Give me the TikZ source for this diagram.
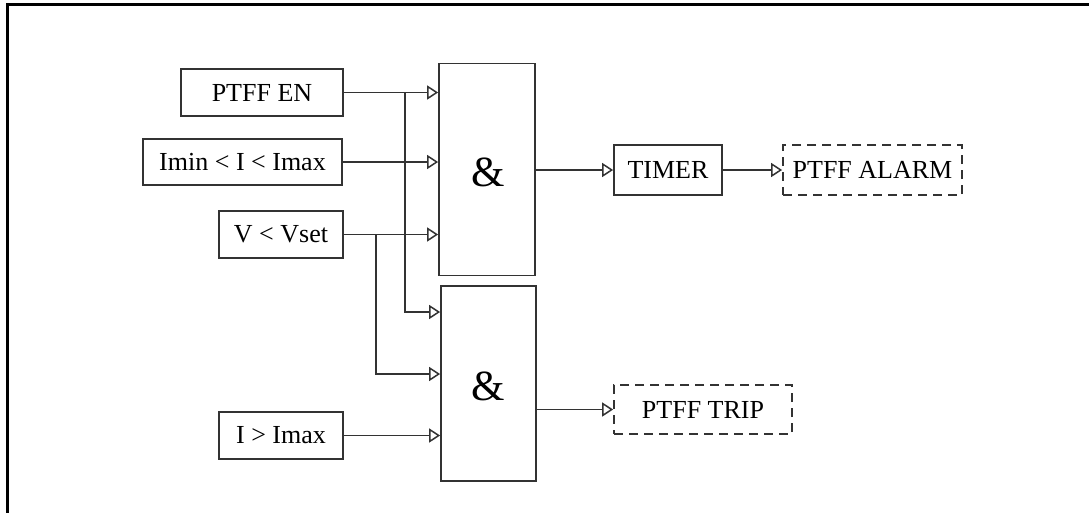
\documentclass[tikz,border=0pt]{standalone}
\usepackage{fontspec}
\setmainfont{Liberation Serif}
\usetikzlibrary{arrows.meta}
\definecolor{ln}{HTML}{333333}
\tikzset{
  box/.style={draw=ln, line width=1.7pt, rectangle, inner sep=0pt, font=\fontsize{26}{30}\selectfont},
  dbox/.style={box, dash pattern=on 9pt off 6pt},
  gate/.style={draw=ln, line width=1.7pt, rectangle, inner sep=0pt},
  wire/.style={draw=ln, line width=1.6pt},
  arr/.style={wire, -{Triangle[open, length=11pt, width=14pt, line width=1.5pt]}},
  amp/.style={font=\fontsize{43}{48}\selectfont, inner sep=0pt}
}
\begin{document}
\begin{tikzpicture}[x=1pt,y=-1pt]
\useasboundingbox (0,0) rectangle (1089,512);
\fill[white] (0,0) rectangle (1089,512);
% outer frame (cropped at right and bottom)
\draw[line width=3pt, black] (7.5,520) -- (7.5,4.5) -- (1100,4.5);

% input boxes
\node[box, minimum width=162pt, minimum height=47pt] (en) at (262,92.5) {PTFF EN};
\node[box, minimum width=199pt, minimum height=46pt] (imin) at (242.5,162) {Imin < I < Imax};
\node[box, minimum width=124pt, minimum height=47pt] (vset) at (281,234.5) {V < Vset};
\node[box, minimum width=124pt, minimum height=47pt] (imax) at (281,435.5) {I > Imax};

% gates
\node[gate, minimum width=96pt, minimum height=212pt] (and1) at (487,169.5) {};
\node[gate, minimum width=95pt, minimum height=195pt] (and2) at (488.5,383.5) {};
\node[amp] (amp1) at (488,172) {\&};
\node[amp] (amp2) at (488,386) {\&};

% output boxes
\node[box, minimum width=108pt, minimum height=50pt] (timer) at (668,170) {TIMER};
\node[dbox, minimum width=179pt, minimum height=50pt] (alarm) at (872.5,170) {PTFF ALARM};
\node[dbox, minimum width=178pt, minimum height=49pt] (trip) at (703,409.5) {PTFF TRIP};

% branch coordinates
\coordinate (b1) at (405,312);
\coordinate (b2) at (376,374);
\coordinate (j1) at (en.east -| b1);
\coordinate (j2) at (vset.east -| b2);

% inputs to gate 1
\draw[arr] (en.east) -- (and1.west |- en.east);
\draw[arr] (imin.east) -- (and1.west |- imin.east);
\draw[arr] (vset.east) -- (and1.west |- vset.east);

% inputs to gate 2
\draw[arr] (j1) -- (b1) -- (and2.west |- b1);
\draw[arr] (j2) -- (b2) -- (and2.west |- b2);
\draw[arr] (imax.east) -- (and2.west |- imax.east);

% outputs
\draw[arr] (and1.east |- timer.west) -- (timer.west);
\draw[arr] (timer.east) -- (alarm.west);
\draw[arr] (and2.east |- trip.west) -- (trip.west);
\end{tikzpicture}
\end{document}
